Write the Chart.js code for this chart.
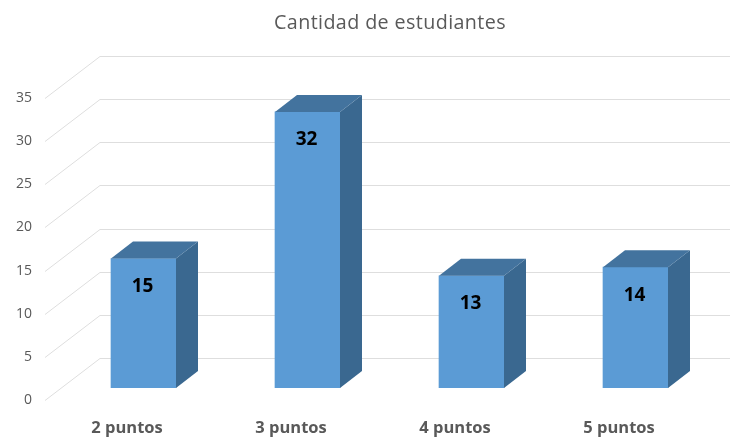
<!DOCTYPE html>
<html>
<head>
<meta charset="utf-8">
<title>Cantidad de estudiantes</title>
<script src="https://cdn.jsdelivr.net/npm/chart.js@4"></script>
<style>
  html, body { margin: 0; padding: 0; background: #fff; }
  #wrap { width: 730px; height: 437px; }
</style>
</head>
<body>
<div id="wrap"><canvas id="chart" width="730" height="437"></canvas></div>
<script>
const chartTitle = "Cantidad de estudiantes"
const categories = ["2 puntos", "3 puntos", "4 puntos", "5 puntos"]
const values = [15, 32, 13, 14]
const tickValues = [0, 5, 10, 15, 20, 25, 30, 35]

const frontColor = "#5b9bd5"
const sideColor = "#3a6890"
const topColor = "#43739e"
const gridColor = "#dedede"
const textColor = "#595959"

// depth of the floor and of one bar, in pixels
const wallX = 55
const wallY = -42
const barShiftX = 16.5
const barShiftY = -12
const depthX = 22
const depthY = -17

const fake3d = {
  id: "fake3d",
  beforeDatasetsDraw(chart) {
    const { ctx, scales, width } = chart
    ctx.save()
    ctx.strokeStyle = gridColor
    ctx.lineWidth = 1
    scales.y.ticks.forEach((t) => {
      const y = Math.round(scales.y.getPixelForValue(t.value)) + 0.5
      ctx.beginPath()
      ctx.moveTo(scales.x.left, y)
      ctx.lineTo(scales.x.left + wallX, y + wallY)
      ctx.lineTo(width, y + wallY)
      ctx.stroke()
    })
    ctx.fillStyle = textColor
    ctx.font = "19.7px 'Open Sans'"
    ctx.textAlign = "center"
    ctx.textBaseline = "middle"
    ctx.letterSpacing = "0.4px"
    ctx.fillText(chartTitle, 390, 23)
    ctx.restore()
  },
  // the bars stand half way into the floor
  beforeDatasetDraw(chart) {
    chart.ctx.save()
    chart.ctx.translate(barShiftX, barShiftY)
  },
  afterDatasetDraw(chart) {
    const { ctx } = chart
    chart.getDatasetMeta(0).data.forEach((bar, i) => {
      const left = bar.x - bar.width / 2
      const right = bar.x + bar.width / 2
      ctx.fillStyle = sideColor
      ctx.beginPath()
      ctx.moveTo(right, bar.y)
      ctx.lineTo(right + depthX, bar.y + depthY)
      ctx.lineTo(right + depthX, bar.base + depthY)
      ctx.lineTo(right, bar.base)
      ctx.closePath()
      ctx.fill()
      ctx.fillStyle = topColor
      ctx.beginPath()
      ctx.moveTo(left, bar.y)
      ctx.lineTo(left + depthX, bar.y + depthY)
      ctx.lineTo(right + depthX, bar.y + depthY)
      ctx.lineTo(right, bar.y)
      ctx.closePath()
      ctx.fill()
      ctx.fillStyle = "#000"
      ctx.font = "bold 19px 'Open Sans'"
      ctx.textAlign = "center"
      ctx.textBaseline = "middle"
      ctx.fillText(values[i], bar.x - 1, bar.y + 28)
    })
    ctx.restore()
  },
}

new Chart(document.getElementById("chart"), {
  type: "bar",
  data: {
    labels: categories,
    datasets: [
      {
        data: values,
        backgroundColor: frontColor,
        borderWidth: 0,
        barThickness: 65,
      },
    ],
  },
  options: {
    responsive: false,
    animation: false,
    layout: { padding: { top: 98, right: 29, left: 0, bottom: 0 } },
    plugins: { legend: { display: false }, title: { display: false }, tooltip: { enabled: false } },
    scales: {
      x: {
        grid: { display: false },
        border: { display: false },
        ticks: { color: textColor, padding: 10, font: { family: "Open Sans", size: 16.5, weight: "bold" } },
        afterFit: (s) => { s.height = 37 },
      },
      y: {
        min: 0,
        max: 35,
        grid: { display: false },
        border: { display: false },
        afterBuildTicks: (s) => { s.ticks = tickValues.map((v) => ({ value: v })) },
        ticks: { color: textColor, padding: 5, font: { family: "Open Sans", size: 14 } },
        afterFit: (s) => { s.width = 45 },
      },
    },
  },
  plugins: [fake3d],
})
</script>
</body>
</html>
